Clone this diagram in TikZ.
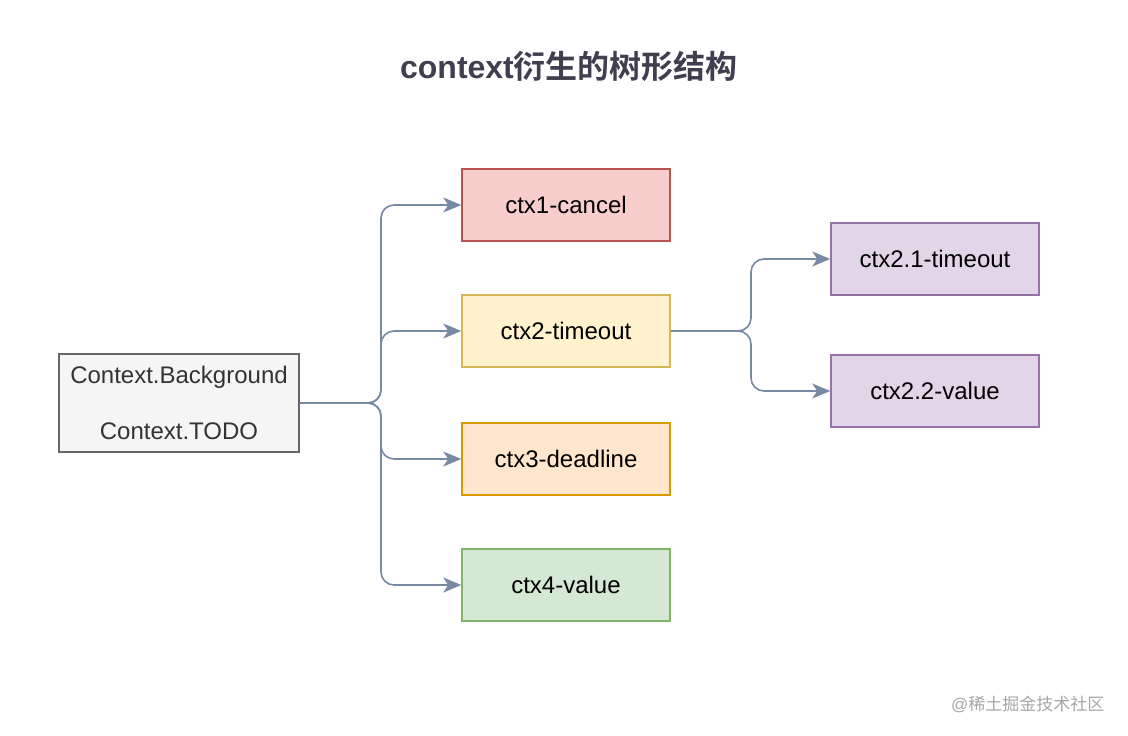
\documentclass[tikz,border=0pt]{standalone}
\usepackage{fontspec}
\setmainfont{Liberation Sans}
\newfontfamily\cjk{Noto Sans CJK SC}[BoldFont=* Bold]
\usetikzlibrary{arrows.meta}
\definecolor{conn}{HTML}{788AA3}
\definecolor{titlec}{HTML}{3F3F4F}
\tikzset{
  box/.style={draw, line width=1.5pt, minimum width=208pt, minimum height=72pt, inner sep=0pt, font=\fontsize{24}{28}\selectfont},
  link/.style={draw=conn, line width=1.6pt, rounded corners=13pt, -{Stealth[length=18pt,width=15pt,inset=5pt]}},
}
\begin{document}
\begin{tikzpicture}[x=1pt,y=-1pt]
\useasboundingbox (0,0) rectangle (1128,736);
\node (title) at (569,66) {\fontsize{32}{36}\selectfont\bfseries\color{titlec}context{\cjk 衍生的树形结构}};
\node[box, draw=black!60, fill=black!4, minimum width=240pt, minimum height=98pt, text=black!80, align=center] (root) at (179,403) {\raisebox{-3pt}{Context.Background}\\[28pt]\raisebox{-3pt}{Context.TODO}};
\node[box, draw={rgb,255:red,184;green,84;blue,80}, fill={rgb,255:red,248;green,206;blue,204}] (c1) at (566,205) {ctx1-cancel};
\node[box, draw={rgb,255:red,214;green,182;blue,86}, fill={rgb,255:red,255;green,242;blue,204}] (c2) at (566,331) {ctx2-timeout};
\node[box, draw={rgb,255:red,215;green,155;blue,0}, fill={rgb,255:red,255;green,230;blue,204}] (c3) at (566,459) {ctx3-deadline};
\node[box, draw={rgb,255:red,130;green,179;blue,102}, fill={rgb,255:red,213;green,232;blue,212}] (c4) at (566,585) {ctx4-value};
\node[box, draw={rgb,255:red,150;green,115;blue,166}, fill={rgb,255:red,225;green,213;blue,231}] (c21) at (935,259) {ctx2.1-timeout};
\node[box, draw={rgb,255:red,150;green,115;blue,166}, fill={rgb,255:red,225;green,213;blue,231}] (c22) at (935,391) {ctx2.2-value};
\coordinate (j1) at (381,403);
\coordinate (j2) at (751,331);
\foreach \t in {c1,c2,c3,c4} {
  \draw[link] (root.east) -- (j1) |- (\t.west);
}
\foreach \t in {c21,c22} {
  \draw[link] (c2.east) -- (j2) |- (\t.west);
}
\node[text=black!35, anchor=east] (wm) at (1108,704) {\fontsize{17}{20}\selectfont @{\cjk 稀土掘金技术社区}};
\end{tikzpicture}
\end{document}
